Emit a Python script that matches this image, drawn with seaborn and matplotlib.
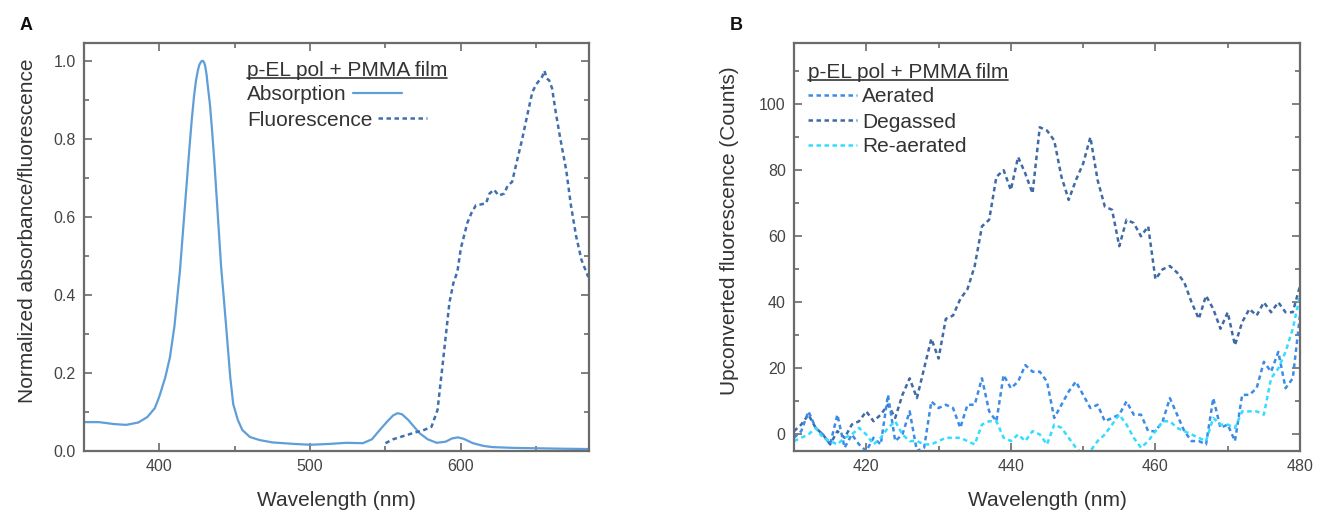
import numpy as np
import pandas as pd
import matplotlib
matplotlib.use("Agg")
import matplotlib.pyplot as plt
import seaborn as sns
from matplotlib.lines import Line2D
from matplotlib.ticker import MultipleLocator

# ---------------- data ----------------
abs_wl = [350, 360, 370, 378, 386, 392, 397, 400, 404, 407, 410, 413.6, 417, 420, 421.5,
          423, 424.3, 425.5, 426.5, 427.5, 428.2, 429, 429.8, 430.5, 431.3, 432, 433.5,
          435, 436.5, 438, 439.5, 441, 443, 444.7, 447, 449, 452, 455, 460,
          466.5, 475, 490, 500, 512, 524, 535, 541, 546, 551, 555, 558, 561, 565, 572.5,
          578, 584, 590, 594, 598, 602, 608, 615, 621, 635, 650, 665, 685]
abs_val = [0.074, 0.074, 0.069, 0.067, 0.073, 0.087, 0.11, 0.14, 0.19, 0.24, 0.32, 0.46,
           0.63, 0.78, 0.85, 0.91, 0.95, 0.975, 0.99, 0.997, 1.0, 1.0, 0.995, 0.985, 0.965,
           0.94, 0.89, 0.82, 0.74, 0.65, 0.56, 0.47, 0.38, 0.30, 0.19,
           0.12, 0.08, 0.054, 0.036, 0.028, 0.022, 0.018, 0.016, 0.018, 0.021, 0.02, 0.03,
           0.053, 0.075, 0.091, 0.097, 0.094, 0.08, 0.046, 0.03, 0.021, 0.024, 0.032,
           0.035, 0.031, 0.02, 0.013, 0.01, 0.008, 0.007, 0.006, 0.005]

fl_wl = [550, 555, 560, 565, 570, 575, 580.5, 584.5, 588, 592.4, 595, 597.7, 600, 602,
         604.3, 607, 610, 613, 616.7, 619, 622, 625, 628.8, 631, 634, 637, 640.7, 644,
         647.4, 650, 652, 654, 655.4, 657, 658.6, 660.5, 663, 666, 669.9, 673, 676.5,
         680, 684.5]
fl_val = [0.02, 0.03, 0.036, 0.042, 0.048, 0.053, 0.062, 0.105, 0.225, 0.38, 0.43, 0.46,
          0.52, 0.55, 0.585, 0.61, 0.63, 0.632, 0.635, 0.66, 0.67, 0.655, 0.66, 0.68,
          0.69, 0.74, 0.80, 0.86, 0.92, 0.94, 0.95, 0.96, 0.975, 0.955, 0.95, 0.93, 0.867,
          0.80, 0.72, 0.63, 0.55, 0.49, 0.446]

b_wl = list(range(410, 481))
degassed = [1, 3, 6, 2, 0, -3, 1, -1, 3, 4, 7, 4, 6, 9, 5, 12, 17, 11, 20, 29, 23, 35, 36,
            41, 44, 51, 63, 65, 78, 80, 74, 84, 79, 73, 93, 92, 89, 78, 71, 77, 82, 90, 77,
            69, 68, 57, 65, 64, 60, 63, 47, 50, 51, 49, 46, 40, 35, 42, 38, 32, 37, 27, 34,
            38, 36, 40, 37, 40, 37, 37, 45]
aerated = [-1, 1, 7, 2, 0, -3, 6, -4, 0, -3, -5, -1, -3, 12, -2, 0, 7, -5, -4, 10, 8, 9,
           8, 2, 9, 9, 17, 7, 4, 18, 14, 16, 21, 19, 19, 16, 5, 9, 13, 16, 12, 8, 9, 4, 5,
           6, 10, 6, 6, 1, 1, 4, 11, 6, 1, -2, -2, -3, 11, 2, 3, -2, 12, 12, 14, 22, 19,
           25, 14, 17, 36]
reaerated = [-2, -1, 0, 2, -1, -2, -3, -1, 0, 2, 0, -3, -1, 2, 4, 0, -2, -2, -3, -3, -2,
             -1, -1, -1, -2, -3, 3, 4, 4, -1, -2, 0, -2, 1, 0, -3, 3, 2, -1, -4, -6, -5,
             -2, 0, 3, 6, 3, -1, -4, -2, 1, 4, 4, 2, 1, 0, -1, -2, 5, 3, 3, 2, 7, 7, 7, 6,
             17, 20, 25, 32, 42]

legend_title = "p-EL pol + PMMA film"
a_labels = ["Absorption", "Fluorescence"]
b_labels = ["Aerated", "Degassed", "Re-aerated"]

# ---------------- style ----------------
sns.set_theme(style="ticks")
plt.rcParams['font.family'] = ['Liberation Sans', 'DejaVu Sans']

FRAME = "#6b6b6b"
TXT = "#333333"
C_ABS = "#5f9ed8"
C_FL = "#3f6fae"
C_AER = "#3c8ce6"
C_DEG = "#3f6aa6"
C_REA = "#33ddff"
DASH = (0, (1.8, 1.4))
LW_D = 1.8

W, H = 1318, 512
fig = plt.figure(figsize=(W / 100, H / 100), dpi=100)
axA = fig.add_axes([84 / W, 61 / H, 505 / W, 408 / H])
axB = fig.add_axes([794 / W, 61 / H, 506 / W, 408 / H])

dfA1 = pd.DataFrame({"wl": abs_wl, "v": abs_val})
dfA2 = pd.DataFrame({"wl": fl_wl, "v": fl_val})
sns.lineplot(data=dfA1, x="wl", y="v", ax=axA, color=C_ABS, lw=1.6, sort=False)
sns.lineplot(data=dfA2, x="wl", y="v", ax=axA, color=C_FL, lw=LW_D, linestyle=DASH, sort=False)

dfB = pd.DataFrame({"wl": b_wl, "aer": aerated, "deg": degassed, "rea": reaerated})
sns.lineplot(data=dfB, x="wl", y="deg", ax=axB, color=C_DEG, lw=LW_D, linestyle=DASH, sort=False)
sns.lineplot(data=dfB, x="wl", y="aer", ax=axB, color=C_AER, lw=LW_D, linestyle=DASH, sort=False)
sns.lineplot(data=dfB, x="wl", y="rea", ax=axB, color=C_REA, lw=LW_D, linestyle=DASH, sort=False)

axA.set_xlim(350, 685)
axA.set_ylim(0, 1.046)
axA.xaxis.set_major_locator(MultipleLocator(100))
axA.xaxis.set_minor_locator(MultipleLocator(50))
axA.yaxis.set_major_locator(MultipleLocator(0.2))
axA.yaxis.set_minor_locator(MultipleLocator(0.1))
axA.yaxis.set_major_formatter(matplotlib.ticker.FormatStrFormatter("%.1f"))

axB.set_xlim(410, 480)
axB.set_ylim(-5, 118.5)
axB.xaxis.set_major_locator(MultipleLocator(20))
axB.xaxis.set_minor_locator(MultipleLocator(10))
axB.yaxis.set_major_locator(MultipleLocator(20))
axB.yaxis.set_minor_locator(MultipleLocator(10))

for ax in (axA, axB):
    for s in ax.spines.values():
        s.set_color(FRAME)
        s.set_linewidth(1.6)
    ax.tick_params(which="both", direction="in", top=True, right=True, color=FRAME, width=1.2)
    ax.tick_params(which="major", length=6, labelsize=11.5, labelcolor="#444444", pad=6)
    ax.tick_params(which="minor", length=3.5)
    ax.set_xlabel("Wavelength (nm)", fontsize=15, color=TXT)
    ax.xaxis.set_label_coords(0.5, -0.098)
    ax.xaxis.label.set_va("top")

axA.set_ylabel("Normalized absorbance/fluorescence", fontsize=15, color=TXT)
axA.yaxis.set_label_coords(-0.093, 0.539)
axB.set_ylabel("Upconverted fluorescence (Counts)", fontsize=15, color=TXT)
axB.yaxis.set_label_coords(-0.109, 0.539)

fig.text(20 / W, 1 - 26 / H, "A", fontsize=13, fontweight="bold", color="#111111", va="center")
fig.text(730 / W, 1 - 26 / H, "B", fontsize=13, fontweight="bold", color="#111111", va="center")

# ---------------- legends (drawn like the reference: underlined title) ----------------
fig.canvas.draw()
renderer = fig.canvas.get_renderer()


def fpt(x, y):
    return x / W, 1 - y / H


def title_text(x, y):
    t = fig.text(*fpt(x, y), legend_title, fontsize=15, color=TXT, va="center_baseline", ha="left")
    bb = t.get_window_extent(renderer)
    yu = bb.y0 + 2
    fig.add_artist(Line2D([bb.x0 / W, bb.x1 / W], [yu / H, yu / H], transform=fig.transFigure,
                          color=TXT, lw=1.2))


def handle(x0, x1, y, color, ls, lw):
    fig.add_artist(Line2D([x0 / W, x1 / W], [1 - y / H, 1 - y / H], transform=fig.transFigure,
                          color=color, linestyle=ls, lw=lw))


# Panel A legend: text first, then handle
title_text(247, 68)
for lab, yy, col, ls, lw in zip(a_labels, [93, 118], [C_ABS, C_FL], ["-", DASH], [1.6, LW_D]):
    t = fig.text(*fpt(247, yy), lab, fontsize=15, color=TXT, va="center_baseline", ha="left")
    bb = t.get_window_extent(renderer)
    handle(bb.x1 + 6, bb.x1 + 55, yy, col, ls, lw)

# Panel B legend: handle first, then text
title_text(808, 70)
for lab, yy, col in zip(b_labels, [95, 120, 145], [C_AER, C_DEG, C_REA]):
    handle(808, 857, yy, col, DASH, LW_D)
    fig.text(*fpt(862, yy), lab, fontsize=15, color=TXT, va="center_baseline", ha="left")

fig.savefig("out.png", dpi=100)
